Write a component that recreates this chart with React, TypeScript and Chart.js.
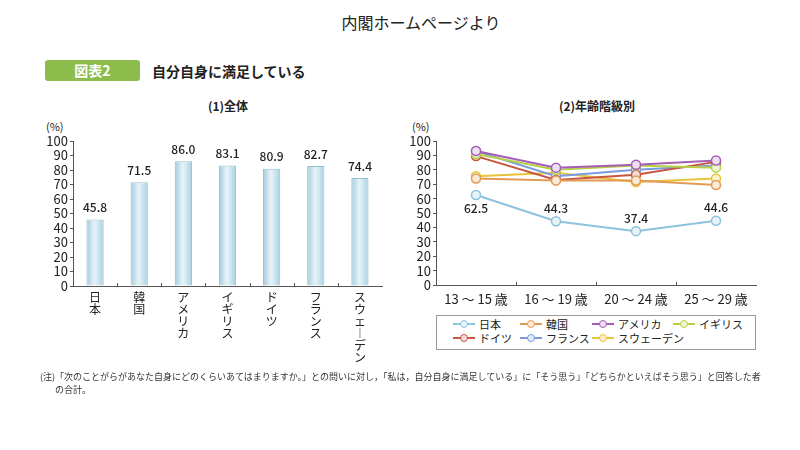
import React, { useEffect, useRef } from 'react';
import { Chart, registerables } from 'chart.js';
Chart.register(...registerables);

const FONT = '"Noto Sans CJK JP", "Noto Sans", sans-serif';

// (1) 全体
const countries = ['日本', '韓国', 'アメリカ', 'イギリス', 'ドイツ', 'フランス', 'スウェーデン'];
const overallValues = [45.8, 71.5, 86.0, 83.1, 80.9, 82.7, 74.4];

// (2) 年齢階級別
const ageGroups = ['13 ～ 15 歳', '16 ～ 19 歳', '20 ～ 24 歳', '25 ～ 29 歳'];
const japanByAge = [62.5, 44.3, 37.4, 44.6];
const koreaByAge = [74, 72.5, 72.5, 69.5];
const usaByAge = [93, 81.5, 83.5, 86.5];
const ukByAge = [91, 80, 83, 81.5];
const germanyByAge = [89.5, 73, 76.5, 85.5];
const franceByAge = [93, 75.5, 80, 83];
const swedenByAge = [75.5, 78, 71.5, 74];

const seriesNames = ['日本', '韓国', 'アメリカ', 'イギリス', 'ドイツ', 'フランス', 'スウェーデン'];
const seriesData = [japanByAge, koreaByAge, usaByAge, ukByAge, germanyByAge, franceByAge, swedenByAge];
const seriesColors = ['#8dc3dc', '#e39a55', '#a55db5', '#b5d145', '#c8553f', '#7b9be0', '#e8c33a'];
const seriesFills = ['#e6f3f9', '#fbe9d6', '#efdff3', '#eef5d3', '#f3dcd6', '#e2e9fa', '#fbf1cc'];

const yMin = 0;
const yMax = 100;
const yStep = 10;

const title1 = '(1)全体';
const title2 = '(2)年齢階級別';
const footnote = '(注)「次のことがらがあなた自身にどのくらいあてはまりますか。」との問いに対し，「私は，自分自身に満足している」に「そう思う」「どちらかといえばそう思う」と回答した者の合計。';

const verticalize = (s: string) => s.split('').map((ch) => (ch === 'ー' ? '︱' : ch));

const boundaryTicks = {
  id: 'boundaryTicks',
  afterDraw(chart: any) {
    const x = chart.scales.x;
    const n = chart.data.labels.length;
    const w = (x.right - x.left) / n;
    const ctx = chart.ctx;
    ctx.save();
    ctx.strokeStyle = '#555';
    ctx.lineWidth = 1;
    for (let i = 1; i < n; i++) {
      const px = Math.round(x.left + i * w) + 0.5;
      ctx.beginPath();
      ctx.moveTo(px, x.top);
      ctx.lineTo(px, x.top - 3);
      ctx.stroke();
    }
    ctx.restore();
  },
};

const barValueLabels = {
  id: 'barValueLabels',
  afterDatasetsDraw(chart: any) {
    const ctx = chart.ctx;
    const meta = chart.getDatasetMeta(0);
    ctx.save();
    ctx.font = `500 12px ${FONT}`;
    ctx.fillStyle = '#222';
    ctx.textAlign = 'center';
    ctx.textBaseline = 'bottom';
    meta.data.forEach((el: any, i: number) => {
      ctx.fillText(overallValues[i].toFixed(1), el.x, el.y - 6);
    });
    ctx.restore();
  },
};

const japanLabels = {
  id: 'japanLabels',
  afterDatasetsDraw(chart: any) {
    const ctx = chart.ctx;
    const meta = chart.getDatasetMeta(0);
    ctx.save();
    ctx.font = `500 12px ${FONT}`;
    ctx.fillStyle = '#222';
    ctx.textAlign = 'center';
    ctx.textBaseline = 'middle';
    meta.data.forEach((el: any, i: number) => {
      const dy = i === 0 ? 13 : -13;
      ctx.fillText(japanByAge[i].toFixed(1), el.x, el.y + dy);
    });
    ctx.restore();
  },
};

function barGradient(ctx: any) {
  const chart = ctx.chart;
  if (!chart.chartArea) return '#bcdbe8';
  const x = chart.scales.x.getPixelForValue(ctx.dataIndex);
  const w = 9;
  const g = chart.ctx.createLinearGradient(x - w, 0, x + w, 0);
  g.addColorStop(0, '#9fc8da');
  g.addColorStop(0.45, '#e6f3f8');
  g.addColorStop(0.6, '#d8ecf4');
  g.addColorStop(1, '#a6cde0');
  return g;
}

const yTickOptions = { stepSize: yStep, autoSkip: false, padding: 2, color: '#222', font: { family: FONT, size: 13 } };

function BarChart() {
  const ref = useRef<HTMLCanvasElement>(null);
  useEffect(() => {
    const chart = new Chart(ref.current as HTMLCanvasElement, {
      type: 'bar',
      data: {
        labels: countries,
        datasets: [
          {
            data: overallValues,
            backgroundColor: barGradient as any,
            borderColor: '#93bfd2',
            borderWidth: 1,
            categoryPercentage: 1,
            barPercentage: 0.39,
          },
        ],
      },
      options: {
        animation: false,
        responsive: false,
        layout: { padding: { top: 47, right: 8, left: 0, bottom: 0 } },
        plugins: { legend: { display: false }, tooltip: { enabled: false } },
        scales: {
          x: {
            grid: { drawOnChartArea: false, drawTicks: false },
            border: { color: '#555', width: 1 },
            ticks: {
              autoSkip: false,
              maxRotation: 0,
              minRotation: 0,
              padding: 5,
              color: '#222',
              font: { family: FONT, size: 12, lineHeight: 1.0 },
              callback: (_v: any, i: number) => verticalize(countries[i]),
            },
            afterFit: (s: any) => {
              s.height = 88;
            },
          },
          y: {
            min: yMin,
            max: yMax,
            grid: { drawOnChartArea: false, tickLength: 3, color: '#555' },
            border: { color: '#555', width: 1 },
            ticks: yTickOptions,
            afterFit: (s: any) => {
              s.width = 53;
            },
          },
        },
      },
      plugins: [boundaryTicks, barValueLabels],
    });
    return () => chart.destroy();
  }, []);
  return <canvas ref={ref} width={370} height={280} style={{ position: 'absolute', left: 20, top: 94, width: 370, height: 280 }} />;
}

function LineChart() {
  const ref = useRef<HTMLCanvasElement>(null);
  useEffect(() => {
    const datasets = seriesNames.map((name, i) => ({
      label: name,
      data: seriesData[i],
      borderColor: seriesColors[i],
      backgroundColor: seriesFills[i],
      pointBackgroundColor: seriesFills[i],
      pointBorderColor: seriesColors[i],
      pointRadius: 4.5,
      pointBorderWidth: 1.5,
      borderWidth: 2,
      tension: 0,
    }));
    const chart = new Chart(ref.current as HTMLCanvasElement, {
      type: 'line',
      data: { labels: ageGroups, datasets },
      options: {
        animation: false,
        responsive: false,
        layout: { padding: { top: 47, right: 14, left: 0, bottom: 0 } },
        plugins: { legend: { display: false }, tooltip: { enabled: false } },
        scales: {
          x: {
            offset: true,
            grid: { drawOnChartArea: false, drawTicks: false, offset: true },
            border: { color: '#555', width: 1 },
            ticks: { padding: 6, color: '#222', font: { family: FONT, size: 13 } },
            afterFit: (s: any) => {
              s.height = 29;
            },
          },
          y: {
            min: yMin,
            max: yMax,
            grid: { drawOnChartArea: false, tickLength: 3, color: '#555' },
            border: { color: '#555', width: 1 },
            ticks: yTickOptions,
            afterFit: (s: any) => {
              s.width = 36;
            },
          },
        },
      },
      plugins: [boundaryTicks, japanLabels],
    });
    return () => chart.destroy();
  }, []);
  return <canvas ref={ref} width={370} height={220} style={{ position: 'absolute', left: 400, top: 94, width: 370, height: 220 }} />;
}

const legendCols = [453, 520, 592, 673];
const legendRows = [324, 338];

function Legend() {
  return (
    <div>
      <div style={{ position: 'absolute', left: 436, top: 315, width: 320, height: 35, border: '1px solid #999', boxSizing: 'border-box' }} />
      {seriesNames.map((name, i) => {
        const col = legendCols[i % 4];
        const row = legendRows[Math.floor(i / 4)];
        return (
          <div key={name} style={{ position: 'absolute', left: col, top: row - 7, height: 14, display: 'flex', alignItems: 'center' }}>
            <div style={{ position: 'relative', width: 22, height: 14 }}>
              <div style={{ position: 'absolute', left: 0, top: 6, width: 22, height: 2, background: seriesColors[i] }} />
              <div style={{ position: 'absolute', left: 7, top: 3, width: 6, height: 6, borderRadius: '50%', background: seriesFills[i], border: `1.5px solid ${seriesColors[i]}` }} />
            </div>
            <span style={{ marginLeft: 4, fontSize: 11, color: '#222', fontFamily: FONT, whiteSpace: 'nowrap' }}>{name}</span>
          </div>
        );
      })}
    </div>
  );
}

export default function App() {
  return (
    <div style={{ position: 'absolute', left: 0, top: 0, width: 800, height: 450, background: '#fff', fontFamily: FONT, overflow: 'hidden' }}>
      <div style={{ position: 'absolute', left: 0, width: 842, top: 10, textAlign: 'center', fontSize: 16, color: '#222' }}>内閣ホームページより</div>
      <div style={{ position: 'absolute', left: 45, top: 60, width: 95, height: 21, background: '#8cbd4c', borderRadius: 3, color: '#fff', fontWeight: 'bold', fontSize: 14, lineHeight: '21px', textAlign: 'center' }}>図表2</div>
      <div style={{ position: 'absolute', left: 152, top: 61, fontSize: 14, fontWeight: 'bold', color: '#222', lineHeight: '20px' }}>自分自身に満足している</div>
      <div style={{ position: 'absolute', left: 128, width: 200, top: 97, textAlign: 'center', fontSize: 12, fontWeight: 'bold', color: '#222' }}>{title1}</div>
      <div style={{ position: 'absolute', left: 497, width: 200, top: 97, textAlign: 'center', fontSize: 12, fontWeight: 'bold', color: '#222' }}>{title2}</div>
      <div style={{ position: 'absolute', left: 46, top: 118, fontSize: 11, color: '#222' }}>(%)</div>
      <div style={{ position: 'absolute', left: 412, top: 118, fontSize: 11, color: '#222' }}>(%)</div>
      <BarChart />
      <LineChart />
      <Legend />
      <div style={{ position: 'absolute', left: 40, top: 370, width: 712, fontSize: 9, lineHeight: '13px', color: '#333', paddingLeft: 15, textIndent: -15 }}>{footnote}</div>
    </div>
  );
}
